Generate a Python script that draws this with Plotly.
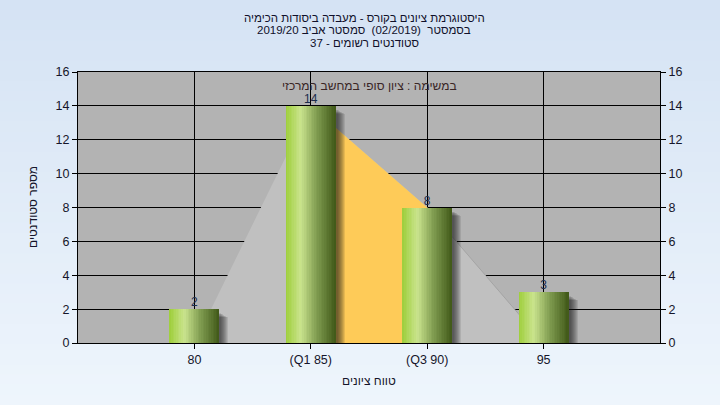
import plotly.graph_objects as go

# ---------------- data ----------------
categories = ["80", "(Q1 85)", "(Q3 90)", "95"]
counts = [2, 14, 8, 3]
outline_vals = [0, 14, 8, 0]          # distribution outline (light gray area)
iqr_range = [1, 2]                    # indices of Q1..Q3 (yellow area)
y_ticks = [0, 2, 4, 6, 8, 10, 12, 14, 16]
title_lines = [
    "היסטוגרמת ציונים בקורס - מעבדה ביסודות הכימיה",
    "בסמסטר  (02/2019)  סמסטר אביב 2019/20",
    "סטודנטים רשומים - 37",
]
inner_title = "במשימה : ציון סופי במחשב המרכזי"
x_title = "טווח ציונים"
y_title = "מספר סטודנטים"

# ---------------- layout constants ----------------
W, H = 720, 405
L, R, T, B = 78, 60, 72, 62
PW, PH = W - L - R, H - T - B
FONT = "Liberation Sans, Arial, sans-serif"
TXT = "#15152a"
XR = [0, 5]
YR = [0, 16]

xpos = list(range(1, len(categories) + 1))

def py(ypix):
    return (H - B - ypix) / PH

def px(xpix):
    return (xpix - L) / PW

def lerp(c1, c2, t):
    return tuple(int(round(a + (b - a) * t)) for a, b in zip(c1, c2))

def grad(stops, t):
    for (t0, c0), (t1, c1) in zip(stops, stops[1:]):
        if t <= t1:
            return lerp(c0, c1, (t - t0) / (t1 - t0) if t1 > t0 else 0)
    return stops[-1][1]

fig = go.Figure()

# distribution outline (light gray) on base subplot
fig.add_trace(go.Scatter(
    x=xpos, y=outline_vals, mode="lines", fill="tozeroy",
    fillcolor="#c0c0c0", line=dict(width=0, color="#c0c0c0"),
    hoverinfo="skip", showlegend=False))
fig.add_trace(go.Scatter(
    x=xpos[2:], y=outline_vals[2:], mode="lines",
    line=dict(width=1, color="#a4a4a4"), hoverinfo="skip", showlegend=False))
# interquartile area (yellow)
fig.add_trace(go.Scatter(
    x=[xpos[i] for i in iqr_range], y=[outline_vals[i] for i in iqr_range],
    mode="lines", fill="tozeroy", fillcolor="#fecb58",
    line=dict(width=0, color="#fecb58"), hoverinfo="skip", showlegend=False))

# bars on overlaying subplot (x2, y3) so they are drawn above the areas
BW = 0.43
px_unit_x = PW / (XR[1] - XR[0])
px_unit_y = PH / (YR[1] - YR[0])
for k in range(8):
    dx = 2 + k
    dy = 4 + k * 0.6
    fig.add_trace(go.Bar(
        x=xpos, y=[c - dy / px_unit_y for c in counts], width=BW,
        offset=-BW / 2 + dx / px_unit_x, xaxis="x2", yaxis="y3",
        marker=dict(color="rgba(20,20,20,0.10)", line=dict(width=0)),
        hoverinfo="skip", showlegend=False))

stops = [(0.0, (158, 206, 58)), (0.3, (202, 228, 142)), (0.62, (128, 156, 80)), (1.0, (64, 88, 24))]
N = 30
sw = BW / N
for i in range(N):
    c = grad(stops, (i + 0.5) / N)
    w = min(sw * 1.6, BW - i * sw)
    fig.add_trace(go.Bar(
        x=xpos, y=counts, width=w, offset=-BW / 2 + i * sw, xaxis="x2", yaxis="y3",
        marker=dict(color=f"rgb{c}", line=dict(width=0)),
        hoverinfo="skip", showlegend=False))
# value labels
fig.add_trace(go.Scatter(
    x=xpos, y=counts, mode="text", text=[str(c) for c in counts], xaxis="x2", yaxis="y3",
    textposition="top center", textfont=dict(family=FONT, size=12, color="#1c2c4c"),
    hoverinfo="skip", showlegend=False, cliponaxis=False))
# invisible trace for right axis
fig.add_trace(go.Scatter(x=[xpos[0]], y=[0], yaxis="y2", mode="markers",
                         marker=dict(opacity=0), hoverinfo="skip", showlegend=False))

# ---------------- background shapes ----------------
shapes = []
NS = 40
top_c, bot_c = (213, 227, 244), (238, 245, 252)
for i in range(NS):
    c = lerp(top_c, bot_c, i / (NS - 1))
    ytop = H * i / NS
    ybot = H * (i + 1) / NS + 1
    shapes.append(dict(type="rect", xref="paper", yref="paper",
                       x0=px(0), x1=px(W), y0=py(ybot), y1=py(ytop),
                       fillcolor=f"rgb{c}", line=dict(width=0), layer="below"))
shapes.append(dict(type="rect", xref="paper", yref="paper", x0=0, x1=1, y0=0, y1=1,
                   fillcolor="#b3b3b3", line=dict(width=0), layer="below"))

annotations = []
for txt, yp in zip(title_lines, [18, 30.5, 43]):
    annotations.append(dict(text=txt, xref="paper", yref="paper", x=px(364), y=py(yp),
                            xanchor="center", yanchor="middle", showarrow=False,
                            font=dict(family=FONT, size=11.5, color="#10102a")))
annotations.append(dict(text=inner_title, xref="paper", yref="paper", x=0.5, y=py(86),
                        xanchor="center", yanchor="middle", showarrow=False,
                        font=dict(family=FONT, size=12, color="#3a2626")))
annotations.append(dict(text=x_title, xref="paper", yref="paper", x=0.5, y=py(381),
                        xanchor="center", yanchor="middle", showarrow=False,
                        font=dict(family=FONT, size=12, color=TXT)))
annotations.append(dict(text=y_title, xref="paper", yref="paper", x=px(33), y=py(207),
                        xanchor="center", yanchor="middle", showarrow=False, textangle=-90,
                        font=dict(family=FONT, size=12, color=TXT)))

axis_common = dict(range=YR, tickvals=y_ticks, showgrid=False, showline=True,
                   linecolor="black", linewidth=1, ticks="outside", ticklen=5,
                   tickcolor="black", tickfont=dict(family=FONT, size=12.5, color=TXT),
                   zeroline=False, fixedrange=True)

fig.update_layout(
    width=W, height=H,
    margin=dict(l=L, r=R, t=T, b=B),
    paper_bgcolor="#e2ecf8", plot_bgcolor="rgba(0,0,0,0)",
    barmode="overlay", bargap=0,
    shapes=shapes, annotations=annotations,
    xaxis=dict(range=XR, tickvals=xpos, ticktext=categories, showgrid=True,
               gridcolor="black", gridwidth=1, showline=True, mirror=True,
               linecolor="black", linewidth=1, ticks="outside", ticklen=5,
               tickcolor="black", tickfont=dict(family=FONT, size=12.5, color=TXT),
               zeroline=False, fixedrange=True),
    xaxis2=dict(range=XR, overlaying="x", visible=False, fixedrange=True),
    yaxis=dict(**{**axis_common, "showgrid": True, "gridcolor": "black", "gridwidth": 1}),
    yaxis2=dict(**axis_common, overlaying="y", side="right"),
    yaxis3=dict(range=YR, overlaying="y", visible=False, fixedrange=True),
    font=dict(family=FONT),
)

fig.write_html("out.html", config={"displayModeBar": False},
               post_script="document.body.style.margin='0';document.body.style.padding='0';")
